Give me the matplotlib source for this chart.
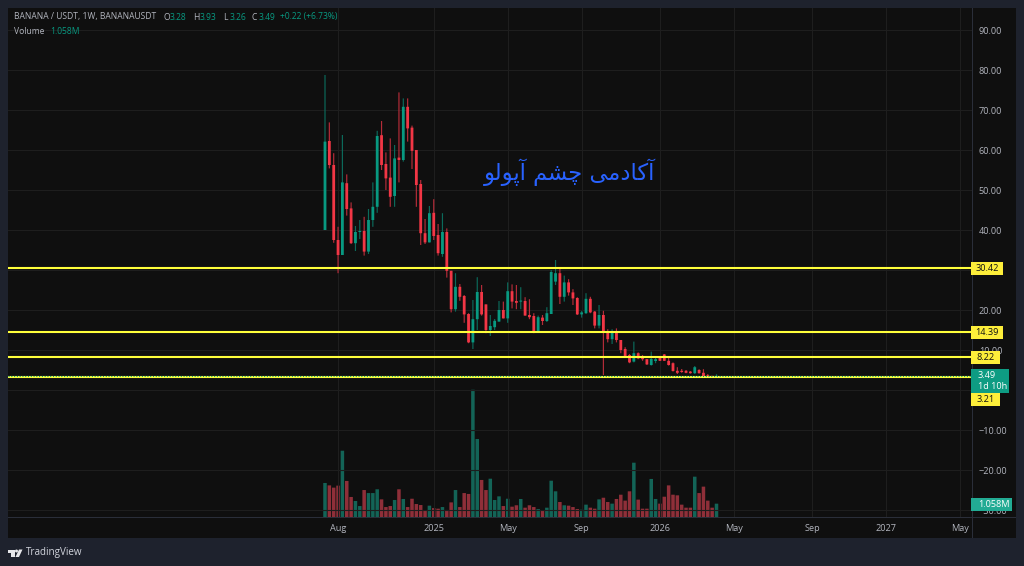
import matplotlib
matplotlib.use("Agg")
import matplotlib.pyplot as plt
from matplotlib.patches import Rectangle, Polygon, Circle
from matplotlib.transforms import IdentityTransform

# ---------- data ----------
opens = [40,62.25,56.25,37.5,33.75,51.7,45.4,36.7,39.5,39.75,34.6,42.5,45.8,63.7,56.5,53.1,48.5,58.1,57.5,70.8,65.6,60,51.5,39.2,36.9,44.3,38.75,34,39.5,29.8,
         20.2,25.8,23.5,19,11.9,17.7,24.5,21.4,15,15.7,17.1,20,17.9,24.7,22.25,22.1,22.25,18.75,18.5,14.6,18.1,17.25,19,27.1,29.2,23.3,26.9,24.4,23,18.9,
         19.2,22.8,19.6,16.1,18.75,14.3,12.7,14.6,12.5,10.25,8.75,7.1,9.2,8.3,7.7,6.25,7.25,8.2,8.9,7.3,6.7,4.8,4.8,4.8,4.6,4.2,5,4.3,3.7,3.5,3.28]
highs = [78.75,66.9,59.2,40.8,63.75,53.9,46.9,41,42.5,43.3,45.25,51.9,64.8,67.25,59.4,62.9,61.25,74.4,72.9,72.9,66.1,60,52.5,42.75,46,47.7,41.5,44.2,40.4,29.8,
         29.2,26.5,23.75,19.2,22.5,28.2,26.25,21.4,18.75,17.75,22.25,22.1,26.9,26.4,26.25,25.7,23.2,22.7,19.2,18.6,18.75,20.7,30,32.5,30.4,28.6,27.7,25.2,23.2,19.75,
         24.2,23.3,19.75,21.25,19.8,15.2,15.2,15.4,12.5,10.7,9,12.1,9.4,8.75,7.7,9.6,8.2,8.3,9,8.2,6.9,5.7,5.25,5,4.75,6,5.2,5.2,4,3.5,3.93]
lows = [40,55.4,36.8,29.2,33.75,43.6,36.5,34.75,37.75,33.6,34,40.8,44.3,55,50,45.8,45.8,51.9,57.1,62.1,55.25,45.8,36.25,36.5,36.9,37.5,33.6,33.3,28.1,19.4,
        19.6,22.3,16.8,11.7,10.25,15,18.6,14.2,13.5,15,17.1,17.9,16.8,20.4,20.2,20.2,18.6,17.7,14.2,14.6,16.25,17,19,26.25,21.5,22.1,23.6,21.25,18.75,18.1,
        19,19.2,15.4,15.4,3.75,11.9,11.5,11.9,9.2,8.2,6.7,6.9,7.7,7.3,6.25,6.1,6.7,7.25,7.25,6.1,4.6,4,4.3,4.2,4.1,4,4.1,3.2,3.15,3.2,3.26]
closes = [62.1,56.25,37.5,33.75,51.9,45.25,36.7,39.5,39.75,34.6,42.5,45.8,63.5,56.25,52.9,48.3,57.9,57.5,70.8,65.4,59.8,51.25,39.2,36.9,44.2,38.5,34.2,39.5,29.8,20.2,
          25.8,23.3,18.9,11.9,17.7,24.5,18.9,15,16,17.3,20,17.9,24.7,22.1,21.8,22.25,18.6,18.2,14.6,18.2,17.25,19.2,29.5,29.2,23.3,26.9,24.4,22.9,18.9,19.4,
          22.8,19.4,16.1,18.75,14.6,12.7,14.3,12.5,10,8.3,6.9,9.2,7.9,7.7,6.4,7.75,7.7,7.3,7.3,6.25,4.75,4.3,4.5,4.3,4.2,5.7,4.2,3.3,3.25,3.3,3.49]
volumes = [2.70,2.51,2.33,2.49,5.26,2.86,1.59,1.27,0.87,2.14,1.90,1.90,2.20,1.40,0.79,0.87,1.35,2.20,1.43,0.79,1.45,1.03,0.95,0.48,0.90,0.71,0.66,0.79,0.56,1.16,
           2.14,0.79,1.90,1.83,10.10,6.19,2.94,2.14,3.04,1.35,1.64,0.87,1.45,0.82,0.93,1.43,0.74,0.93,0.79,0.63,0.53,0.74,2.88,2.04,1.19,0.93,0.90,0.79,0.63,0.58,
           0.98,0.74,0.66,1.40,1.53,1.19,1.06,1.43,1.77,1.30,2.04,4.31,1.38,0.66,0.66,3.02,1.43,1.06,1.61,2.51,1.77,1.72,0.98,0.74,0.74,3.20,1.90,2.41,1.30,0.74,1.058]
levels = [30.42, 14.39, 8.22, 3.21]
level_labels = ["30.42", "14.39", "8.22", "3.21"]
last_price = 3.49
price_ticks = [90,80,70,60,50,40,30,20,10,0,-10,-20,-30]
hidden_ticks = [30, 0]   # covered by price tags in the reference
time_positions = [3,25,42,59,77,94,112,129,146]
time_labels = ["Aug","2025","May","Sep","2026","May","Sep","2027","May"]
watermark = "آکادمی چشم آپولو"

# ---------- style ----------
W, H = 1024, 566
OUTER, PANE, SEP = "#1e222d", "#0f0f0f", "#2a2e39"
GRID = "#1e1e1e"
TXT = "#b2b5be"
GREEN, RED = "#089981", "#f23645"
GREEN_W, RED_W = "#0b6a5b", "#b52c39"
GREEN_V, RED_V = "#136457", "#8f2f39"
YEL = "#ffff3b"
YEL_BOX = "#fdee3a"
BLUE = "#2962ff"
FONT = ["Open Sans", "DejaVu Sans"]
plt.rcParams["font.family"] = FONT

L, R, T, B = 8, 972, 8, 517
X0, DX = 325, 4.35      # pixel of first bar, pixels per bar
YPX0, YPXU = 390, 4     # pixel of price zero, pixels per price unit
VPXU = 12.6             # pixels per million of volume

fig = plt.figure(figsize=(W/100, H/100), dpi=100, facecolor=OUTER)

def fx(x): return x / W
def fy(y): return 1 - y / H

def frect(x0, y0, x1, y1, color, z=20):
    fig.add_artist(Rectangle((fx(x0), fy(y1)), (x1-x0)/W, (y1-y0)/H, transform=fig.transFigure,
                             facecolor=color, edgecolor="none", zorder=z))

def ftext(x, y, s, color=TXT, size=6.6, ha="left", va="center", z=21, **kw):
    return fig.text(fx(x), fy(y), s, color=color, fontsize=size, ha=ha, va=va, zorder=z, **kw)

frect(8, 8, 1016, 538, PANE, z=0)
frect(8, 517, 1016, 518, SEP, z=0.1)
frect(972, 8, 973, 538, SEP, z=0.1)

rect = [fx(L), fy(B), (R-L)/W, (B-T)/H]
axv = fig.add_axes(rect, zorder=1, facecolor="none")
ax = fig.add_axes(rect, zorder=2, facecolor="none")

xlim = ((L-X0)/DX, (R-X0)/DX)
for a in (ax, axv):
    a.set_xlim(*xlim)
    for s in a.spines.values():
        s.set_visible(False)
ax.set_ylim((YPX0-B)/YPXU, (YPX0-T)/YPXU)
axv.set_ylim(0, (B-T)/VPXU)
axv.set_xticks([]); axv.set_yticks([])

idx = list(range(len(closes)))
up = [c >= o for o, c in zip(opens, closes)]

# volume
vb = axv.bar(idx, volumes, width=3.5/DX, color=[GREEN_V if u else RED_V for u in up], linewidth=0)
for p in vb:
    p.set_snap(False)

# candles
wicks = ax.vlines(idx, lows, highs, colors=[GREEN_W if u else RED_W for u in up], linewidth=0.85, zorder=3)
wicks.set_snap(False)
bodies = ax.bar(idx, [max(abs(c-o), 0.25) for o, c in zip(opens, closes)], bottom=[min(o, c) for o, c in zip(opens, closes)],
                width=2.8/DX, color=[GREEN if u else RED for u in up], linewidth=0, zorder=4)
for p in bodies:
    p.set_snap(False)

# horizontal levels
ax.axhline(last_price, color=GREEN, lw=0.8, ls=(0, (1, 1.5)), zorder=6)
for lv in levels:
    ax.axhline(lv, color=YEL, lw=1.5, zorder=5)

# axes and grid
ax.set_axisbelow(True)
ax.yaxis.tick_right()
ax.set_yticks(price_ticks)
ax.set_yticklabels(["" if v in hidden_ticks else f"{v:.2f}".replace("-", "\u2212") for v in price_ticks])
ax.set_xticks(time_positions)
ax.set_xticklabels(time_labels)
ax.tick_params(axis="both", length=0, labelcolor=TXT, labelsize=6.6)
ax.tick_params(axis="y", pad=5)
ax.tick_params(axis="x", pad=5)
ax.grid(True, color=GRID, lw=0.8)

# watermark (matplotlib does not shape Arabic: map letters to joined forms, right-to-left)
FORMS = {  # isolated, final, initial, medial
    "آ": ("\uFE81", "\uFE82", None, None),
    "ا": ("\uFE8D", "\uFE8E", None, None),
    "د": ("\uFEA9", "\uFEAA", None, None),
    "و": ("\uFEED", "\uFEEE", None, None),
    "ک": ("\uFB8E", "\uFB8F", "\uFB90", "\uFB91"),
    "م": ("\uFEE1", "\uFEE2", "\uFEE3", "\uFEE4"),
    "ی": ("\uFBFC", "\uFBFD", "\uFBFE", "\uFBFF"),
    "چ": ("\uFB7A", "\uFB7B", "\uFB7C", "\uFB7D"),
    "ش": ("\uFEB5", "\uFEB6", "\uFEB7", "\uFEB8"),
    "پ": ("\uFB56", "\uFB57", "\uFB58", "\uFB59"),
    "ل": ("\uFEDD", "\uFEDE", "\uFEDF", "\uFEE0"),
}
def shape(s):
    out = []
    for i, ch in enumerate(s):
        if ch not in FORMS:
            out.append(ch); continue
        prev = s[i-1] if i else " "
        nxt = s[i+1] if i+1 < len(s) else " "
        jp = prev in FORMS and FORMS[prev][2] is not None
        jn = nxt in FORMS and FORMS[ch][2] is not None
        out.append(FORMS[ch][3 if jp and jn else 1 if jp else 2 if jn else 0])
    return "".join(reversed(out))
ftext(569.5, 172, shape(watermark), color=BLUE, size=16.3, ha="center", family=["DejaVu Sans"], z=5)

# price axis labels
def ypx(v):
    return YPX0 - v * YPXU

for lv, lab in zip(levels, level_labels):
    y = ypx(lv)
    if lab == "3.21":
        y += 22.5   # pushed below the last-price tag
    x1 = 1003 if lv >= 10 else 1000
    frect(971, y-6.5, x1, y+6.5, YEL_BOX)
    ftext((971+x1)/2, y, lab, color="#111111", ha="center")
ly = ypx(last_price)
frect(971, ly-7, 1009, ly+17, "#0e9c83")
ftext(978, ly-0.5, "3.49", color="white")
ftext(978, ly+10, "1d 10h", color="white")
frect(971, 498, 1012, 511, "#22ab94")
ftext(978, 504.5, "1.058M", color="white")

# legend
LEG = 6.15
ftext(14, 17, "BANANA / USDT, 1W, BANANAUSDT", color=TXT, size=LEG)
for x, lab, val in [(163, "O", "3.28"), (193, "H", "3.93"), (223, "L", "3.26"), (252, "C", "3.49")]:
    ftext(x, 17, lab, color=TXT, size=LEG)
    ftext(x+6.5, 17, val, color=GREEN, size=LEG)
ftext(280, 17, "+0.22 (+6.73%)", color=GREEN, size=LEG)
ftext(14, 32, "Volume", color=TXT, size=LEG)
ftext(50, 32, "1.058M", color=GREEN, size=LEG)

# TradingView logo
def disp(x, y): return (x, H - y)
logo = "#e6e7ea"
for pts in ([(8, 549.5), (14.5, 549.5), (14.5, 557), (11, 557), (11, 552.5), (8, 552.5)],
            [(19, 549.5), (22.5, 549.5), (19, 557), (15.5, 557)]):
    fig.add_artist(Polygon([disp(*p) for p in pts], transform=IdentityTransform(), facecolor=logo, edgecolor="none", zorder=21))
fig.add_artist(Circle(disp(16.5, 551), 1.5, transform=IdentityTransform(), facecolor=logo, edgecolor="none", zorder=21))
ftext(26, 552.5, "TradingView", color="#d1d4dc", size=7.1)

fig.savefig("out.png", dpi=100, facecolor=OUTER)
